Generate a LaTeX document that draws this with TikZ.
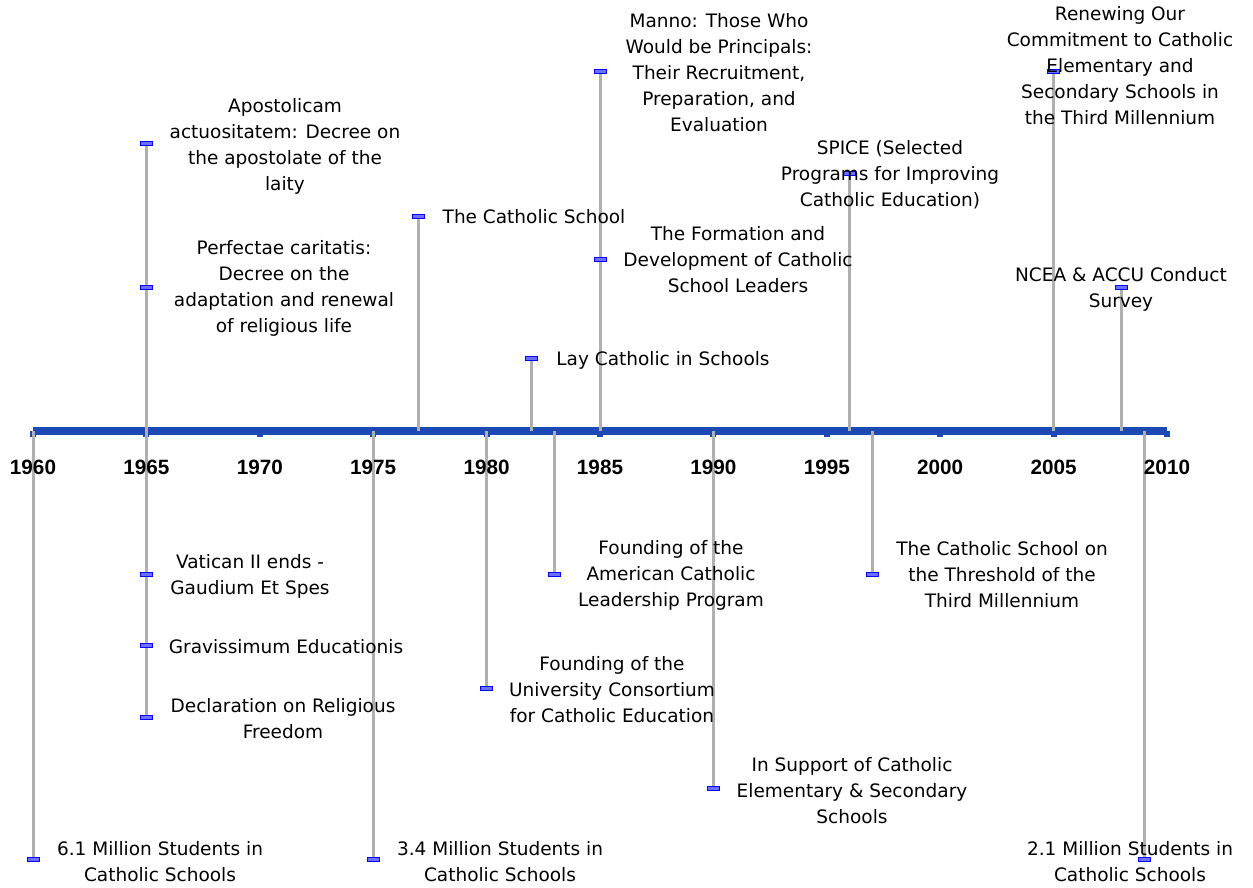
\documentclass[tikz,border=0pt]{standalone}
\usepackage{fontspec}
\usetikzlibrary{calc}
\setmainfont{DejaVu Sans}
\newfontfamily\yearfont{Liberation Sans}
\definecolor{axisblue}{RGB}{28,74,180}
\definecolor{linegrey}{RGB}{176,176,176}
\definecolor{markblue}{RGB}{0,0,255}
\definecolor{markfill}{RGB}{110,110,255}
\pgfdeclarelayer{back}
\pgfsetlayers{back,main}
\begin{document}
\begin{tikzpicture}[x=1pt,y=-1pt,
  conn/.style={draw=linegrey, line width=3pt},
  evmark/.style={rectangle, draw=markblue, fill=markfill, line width=1pt, minimum width=12pt, minimum height=4pt, inner sep=0pt},
  evlabel/.style={align=center, font=\fontsize{18.5}{26}\selectfont, inner sep=0pt, text=black},
  yearlbl/.style={font=\yearfont\bfseries\fontsize{20.7}{23}\selectfont, inner sep=0pt},
  axistick/.style={fill=axisblue, draw=none}]
\useasboundingbox (0,0) rectangle (1253,888);

% axis coordinates per year
\foreach \yr in {1960,...,2010} {
  \coordinate (a\yr) at ({33+(\yr-1960)*22.68},431);
}

% year labels
\foreach \yr in {1960,1965,...,2010} {
  \node[yearlbl] (y\yr) at ({33+(\yr-1960)*22.68},467) {\yr};
}

% event markers
\node[evmark] (m1) at (a1965 |- 0,144) {};
\node[evmark] (m2) at (a1965 |- 0,287) {};
\node[evmark] (m3) at (a1977 |- 0,216) {};
\node[evmark] (m4) at (a1982 |- 0,358) {};
\node[evmark] (m5) at (a1985 |- 0,72) {};
\node[evmark] (m6) at (a1985 |- 0,259) {};
\node[evmark] (m7) at (a1996 |- 0,173) {};
\node[evmark] (m8) at (a2005 |- 0,72) {};
\node[evmark] (m9) at (a2008 |- 0,287) {};
\node[evmark] (m10) at (a1960 |- 0,859) {};
\node[evmark] (m11) at (a1965 |- 0,574) {};
\node[evmark] (m12) at (a1965 |- 0,645) {};
\node[evmark] (m13) at (a1965 |- 0,717) {};
\node[evmark] (m14) at (a1975 |- 0,859) {};
\node[evmark] (m15) at (a1980 |- 0,688) {};
\node[evmark] (m16) at (a1983 |- 0,574) {};
\node[evmark] (m17) at (a1990 |- 0,788) {};
\node[evmark] (m18) at (a1997 |- 0,574) {};
\node[evmark] (m19) at (a2009 |- 0,859) {};

\begin{pgfonlayer}{back}
  % axis bar
  \fill[axisblue] (33,427) rectangle (1167,435);
  \foreach \yr in {1960,1965,...,2010} {
    \fill[axistick] ($(a\yr)+(-3,0)$) rectangle ($(a\yr)+(3,6)$);
  }
  % connectors
  \draw[conn] (a1965) -- (m1.center);
  \draw[conn] (a1965) -- (m2.center);
  \draw[conn] (a1977) -- (m3.center);
  \draw[conn] (a1982) -- (m4.center);
  \draw[conn] (a1985) -- (m5.center);
  \draw[conn] (a1985) -- (m6.center);
  \draw[conn] (a1996) -- (m7.center);
  \draw[conn] (a2005) -- (m8.center);
  \draw[conn] (a2008) -- (m9.center);
  \draw[conn] (a1960) -- (m10.center);
  \draw[conn] (a1965) -- (m11.center);
  \draw[conn] (a1965) -- (m12.center);
  \draw[conn] (a1965) -- (m13.center);
  \draw[conn] (a1975) -- (m14.center);
  \draw[conn] (a1980) -- (m15.center);
  \draw[conn] (a1983) -- (m16.center);
  \draw[conn] (a1990) -- (m17.center);
  \draw[conn] (a1997) -- (m18.center);
  \draw[conn] (a2009) -- (m19.center);
\end{pgfonlayer}

% event labels
\node[evlabel] (t1) at (285,146) {Apostolicam\\actuositatem: Decree on\\the apostolate of the\\laity};
\node[evlabel] (t2) at (284,288) {Perfectae caritatis:\\Decree on the\\adaptation and renewal\\of religious life};
\node[evlabel] (t3) at (534,217) {The Catholic School};
\node[evlabel] (t4) at (663,360) {Lay Catholic in Schools};
\node[evlabel] (t5) at (719,73) {Manno: Those Who\\Would be Principals:\\Their Recruitment,\\Preparation, and\\Evaluation};
\node[evlabel] (t6) at (738,260) {The Formation and\\Development of Catholic\\School Leaders};
\node[evlabel] (t7) at (890,175) {SPICE (Selected\\Programs for Improving\\Catholic Education)};
\node[evlabel] (t8) at (1120,66) {Renewing Our\\Commitment to Catholic\\Elementary and\\Secondary Schools in\\the Third Millennium};
\node[evlabel] (t9) at (1121,289) {NCEA \& ACCU Conduct\\Survey};
\node[evlabel] (t10) at (160,862) {6.1 Million Students in\\Catholic Schools};
\node[evlabel] (t11) at (250,576) {Vatican II ends -\\Gaudium Et Spes};
\node[evlabel] (t12) at (286,647) {Gravissimum Educationis};
\node[evlabel] (t13) at (283,719) {Declaration on Religious\\Freedom};
\node[evlabel] (t14) at (500,862) {3.4 Million Students in\\Catholic Schools};
\node[evlabel] (t15) at (612,690) {Founding of the\\University Consortium\\for Catholic Education};
\node[evlabel] (t16) at (671,575) {Founding of the\\American Catholic\\Leadership Program};
\node[evlabel] (t17) at (852,791) {In Support of Catholic\\Elementary \& Secondary\\Schools};
\node[evlabel] (t18) at (1002,575) {The Catholic School on\\the Threshold of the\\Third Millennium};
\node[evlabel] (t19) at (1130,862) {2.1 Million Students in\\Catholic Schools};
\end{tikzpicture}
\end{document}
